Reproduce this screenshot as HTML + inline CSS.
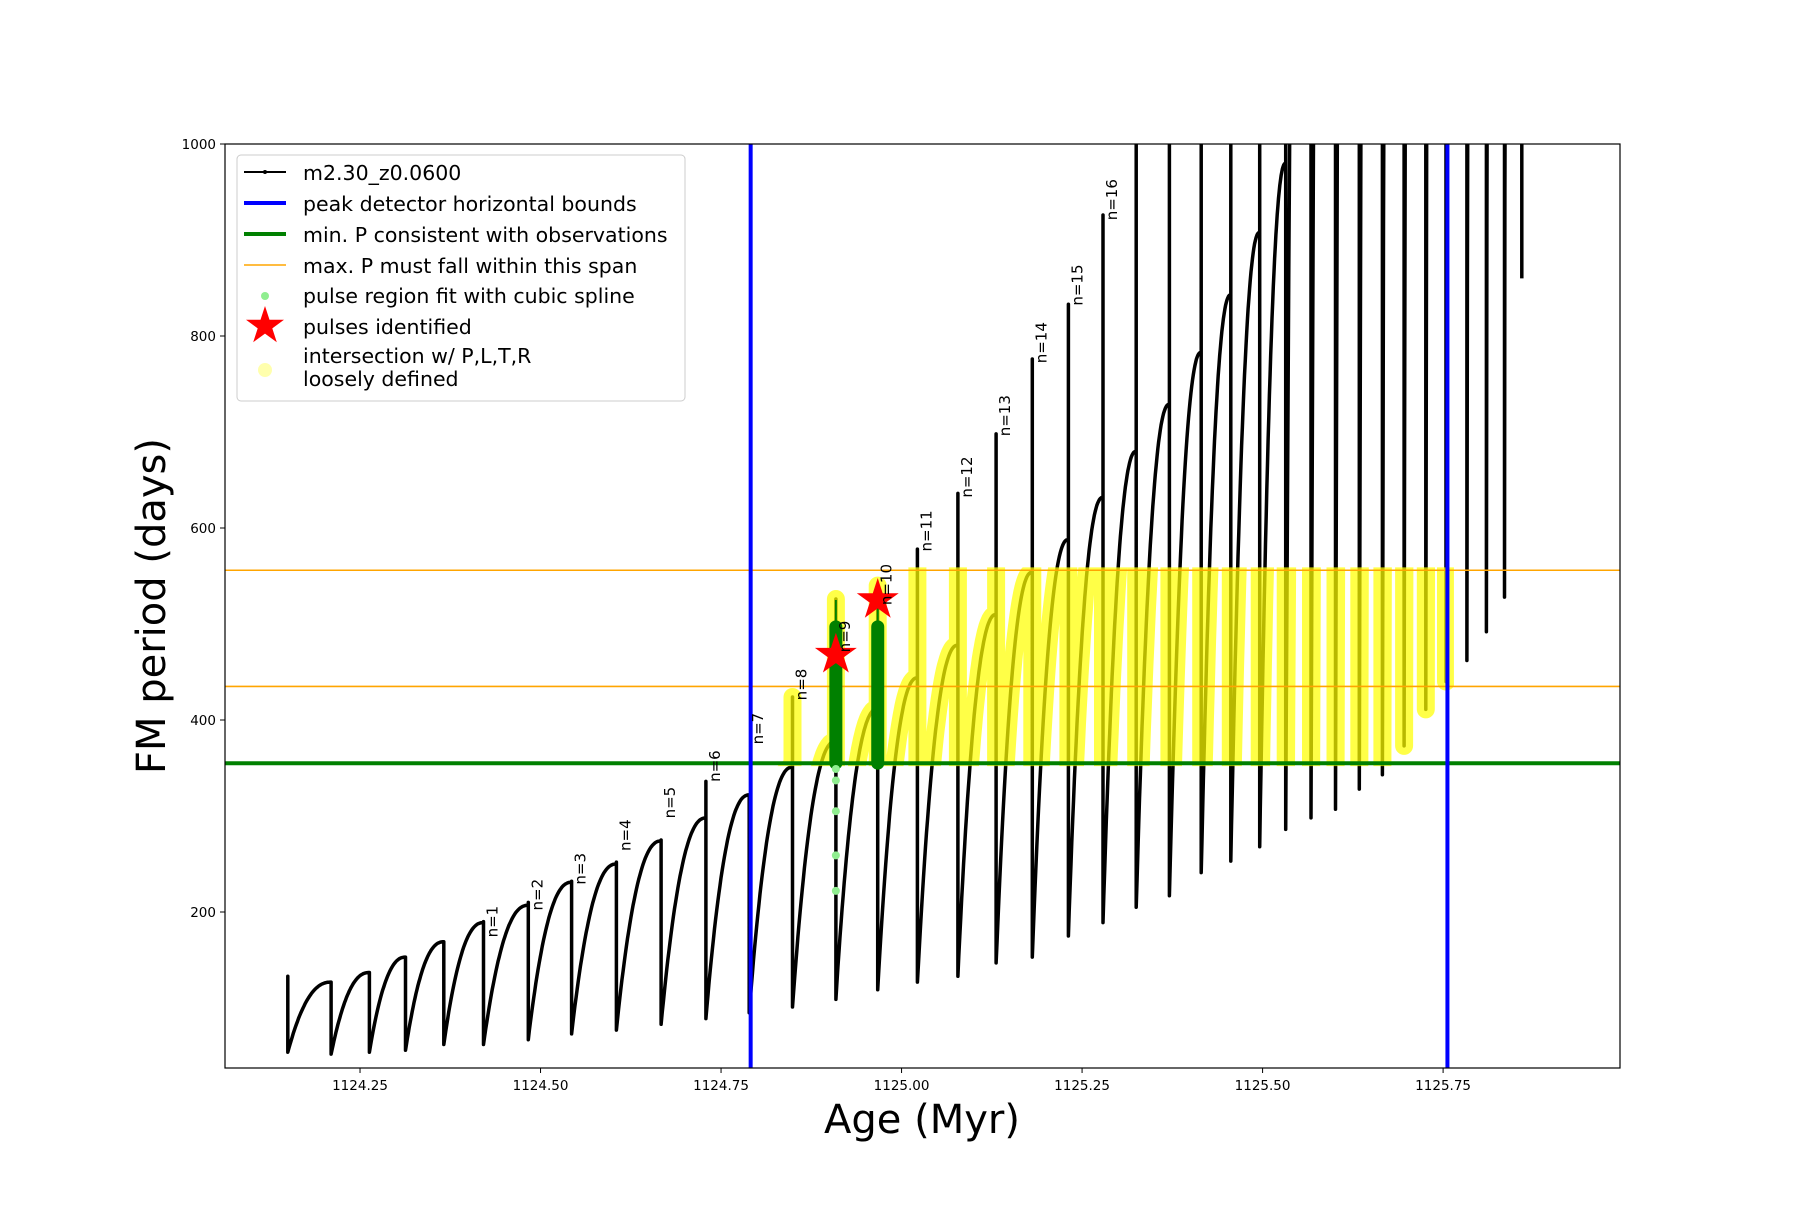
<!DOCTYPE html>
<html><head><meta charset="utf-8"><style>
html,body{margin:0;padding:0;background:#fff;}
svg text{font-family:"DejaVu Sans","Liberation Sans",sans-serif;}
</style></head><body>
<svg id="chart" width="1800" height="1200" viewBox="0 0 1800 1200" xmlns="http://www.w3.org/2000/svg">
<defs>
<clipPath id="plotClip"><rect x="225" y="144" width="1395" height="924"/></clipPath>
<clipPath id="bandClip"><rect id="bandRect" x="0" y="0" width="0" height="0"/></clipPath>
</defs>
<rect x="0" y="0" width="1800" height="1200" fill="#fff"/>
<g id="plot" clip-path="url(#plotClip)"></g>
<rect x="225" y="144" width="1395" height="924" fill="none" stroke="#000" stroke-width="1.2"/>
<g id="xticks"></g>
<g id="yticks"></g>
<text x="922" y="1133" font-size="40" text-anchor="middle">Age (Myr)</text>
<text transform="translate(165,606) rotate(-90)" font-size="40" text-anchor="middle">FM period (days)</text>
<g>
<rect x="237" y="155" width="448" height="246" rx="4" fill="#fff" fill-opacity="0.85" stroke="#ccc" stroke-width="1"/>
<g><line x1="244" y1="172" x2="286" y2="172" stroke="#000" stroke-width="2"/><circle cx="265" cy="172" r="2" fill="#000"/><text x="303" y="180" font-size="20.5">m2.30_z0.0600</text></g>
<g><line x1="244" y1="203" x2="286" y2="203" stroke="#0000ff" stroke-width="4"/><text x="303" y="211" font-size="20.5">peak detector horizontal bounds</text></g>
<g><line x1="244" y1="234" x2="286" y2="234" stroke="#008000" stroke-width="4"/><text x="303" y="242" font-size="20.5">min. P consistent with observations</text></g>
<g><line x1="244" y1="265" x2="286" y2="265" stroke="#ffa500" stroke-width="1.5"/><text x="303" y="273" font-size="20.5">max. P must fall within this span</text></g>
<g><circle cx="265" cy="296" r="4" fill="#90ee90"/><text x="303" y="303" font-size="20.5">pulse region fit with cubic spline</text></g>
<g><polygon id="legStar" fill="#ff0000"/><text x="303" y="334" font-size="20.5">pulses identified</text></g>
<g><circle cx="265" cy="370" r="7" fill="#ffff99" opacity="0.8"/><text x="303" y="363" font-size="20.5">intersection w/ P,L,T,R</text><text x="303" y="386" font-size="20.5">loosely defined</text></g>
</g>
</svg>
<script>
// ---- data ----
const dropAge = [1124.150,1124.210,1124.263,1124.313,1124.366,1124.421,1124.483,1124.543,1124.605,1124.667,1124.729,1124.789,1124.849,1124.909,1124.967,1125.022,1125.078,1125.131,1125.181,1125.231,1125.279,1125.325,1125.371,1125.415,1125.456,1125.496,1125.532,1125.567,1125.601,1125.634,1125.666,1125.696,1125.726,1125.754,1125.783,1125.810,1125.835];
const minP = [54,52,54,56,62,62,67,73,77,83,89,95,101,109,119,127,133,147,153,175,189,205,217,241,253,268,286,298,307,328,343,373,411,440,462,492,528];
const peakP = [133,127,137,153,169,189,207,231,250,274,298,322,351,378,412,444,478,510,554,588,632,680,729,783,843,908,980,2500,3500,4500,5000,5500,6000,6500,7000,7500,8000];
const spikeP = [133,127,137,153,169,190,210,232,252,275,336,322,424,526,540,578,636,698,776,833,926,1100,1100,1100,1100,1100,1100,1100,1100,1100,1100,1100,1100,1100,1100,1100,1100];
const endAge = 1125.859;
const endPeak = 8000;
const endVal = 860;
const labelIdx = [5,6,7,8,9,10,11,12,13,14,15,16,17,18,19,20];
const labelText = ["n=1","n=2","n=3","n=4","n=5","n=6","n=7","n=8","n=9","n=10","n=11","n=12","n=13","n=14","n=15","n=16"];
const labelP = [190,218,245,280,314,352,391,437,487,541,597,653,717,793,853,942];
const boundAges = [1124.791,1125.756];
const minObsP = [355];
const maxSpanP = [435,556];
const splineAge = [1124.909,1124.909,1124.909,1124.909,1124.909];
const splineP = [349,337,305,259,222];
const pulseAge = [1124.909,1124.967];
const pulseP = [468,525];
const greenAge = [1124.909,1124.967];
const greenLo = [355,355];
const greenHi = [497,497];
const greenThin = [525,520];
const yellowRange = [1124.78,1125.765];
const xTicks = [1124.25,1124.50,1124.75,1125.00,1125.25,1125.50,1125.75];
const xTickLabels = ["1124.25","1124.50","1124.75","1125.00","1125.25","1125.50","1125.75"];
const yTicks = [200,400,600,800,1000];
const yTickLabels = ["200","400","600","800","1000"];

// ---- scales ----
const X0=225,X1=1620,Y0=1068,Y1=144;
const xMin=1124.063,xMax=1125.995,yMin=37.5,yMax=1000;
function xs(v){return X0+(v-xMin)/(xMax-xMin)*(X1-X0);}
function ys(v){return Y0-(v-yMin)/(yMax-yMin)*(Y0-Y1);}
const NS="http://www.w3.org/2000/svg";
function mk(tag,attrs,parent){const e=document.createElementNS(NS,tag);for(const k in attrs)e.setAttribute(k,attrs[k]);parent.appendChild(e);return e;}
const plot=document.getElementById('plot');

function shape(u){return 1-Math.pow(1-u,2.3);}
let pts=[];
pts.push([xs(dropAge[0]),ys(minP[0]+20)]);
pts.push([xs(dropAge[0]),ys(spikeP[0])]);
pts.push([xs(dropAge[0]),ys(minP[0])]);
for(let i=0;i<dropAge.length;i++){
  const a0=dropAge[i], a1=(i+1<dropAge.length)?dropAge[i+1]:endAge;
  const p0=minP[i], p1=(i+1<dropAge.length)?peakP[i+1]:endPeak;
  const N=40;
  for(let k=1;k<=N;k++){const u=k/N;let p=p0+(p1-p0)*shape(u);pts.push([xs(a0+(a1-a0)*u),ys(Math.min(p,1100))]);}
  if(i+1<dropAge.length){
    pts.push([xs(a1),ys(Math.min(spikeP[i+1],1100))]);
    pts.push([xs(a1),ys(minP[i+1])]);
  } else {
    pts.push([xs(a1),ys(endVal)]);
  }
}
const d="M"+pts.map(p=>p[0].toFixed(1)+","+p[1].toFixed(1)).join("L");
const series=mk('path',{d:d,fill:'none',stroke:'#000','stroke-width':3.5,'stroke-linejoin':'round'},plot);



const br=document.getElementById('bandRect');
br.setAttribute('x',xs(yellowRange[0]));br.setAttribute('width',xs(yellowRange[1])-xs(yellowRange[0]));
br.setAttribute('y',ys(maxSpanP[1]+3));br.setAttribute('height',ys(minObsP[0]-3)-ys(maxSpanP[1]+3));
const yel=mk('path',{d:d,fill:'none',stroke:'#ffff00','stroke-width':18,'stroke-linecap':'round','stroke-linejoin':'round',opacity:0.72,'clip-path':'url(#bandClip)'},plot);



maxSpanP.forEach(v=>{const l=mk('line',{x1:X0,x2:X1,y1:ys(v),y2:ys(v),stroke:'#ffa500','stroke-width':1.6},plot);

});
minObsP.forEach(v=>{const l=mk('line',{x1:X0,x2:X1,y1:ys(v),y2:ys(v),stroke:'#008000','stroke-width':4},plot);

});
boundAges.forEach(a=>{const l=mk('line',{x1:xs(a),x2:xs(a),y1:Y1,y2:Y0,stroke:'#0000ff','stroke-width':4},plot);

});

greenAge.forEach((a,i)=>{
  const t=mk('line',{x1:xs(a),x2:xs(a),y1:ys(greenLo[i]),y2:ys(greenThin[i]),stroke:'#008000','stroke-width':2},plot);
  
  
  const g=mk('line',{x1:xs(a),x2:xs(a),y1:ys(greenLo[i]),y2:ys(greenHi[i]),stroke:'#008000','stroke-width':13,'stroke-linecap':'round'},plot);
  
  
});
splineAge.forEach((a,i)=>{const c=mk('circle',{cx:xs(a),cy:ys(splineP[i]),r:4,fill:'#90ee90'},plot);

});

function starPts(cx,cy,R){const r=R*0.382;let s=[];for(let k=0;k<10;k++){const ang=-Math.PI/2+k*Math.PI/5;const rr=k%2?r:R;s.push((cx+rr*Math.cos(ang)).toFixed(1)+","+(cy+rr*Math.sin(ang)).toFixed(1));}return s.join(" ");}
pulseAge.forEach((a,i)=>{const s=mk('polygon',{points:starPts(xs(a),ys(pulseP[i]),22),fill:'#ff0000'},plot);

});
document.getElementById('legStar').setAttribute('points',starPts(265,326,20));

labelIdx.forEach((idx,i)=>{
  const x=xs(dropAge[idx])+14, y=ys(labelP[i]);
  const t=mk('text',{transform:`translate(${x.toFixed(1)},${y.toFixed(1)}) rotate(-90)`,'font-size':15,'text-anchor':'middle'},plot);
  t.textContent=labelText[i];
  
  
});

const xg=document.getElementById('xticks');
xTicks.forEach((v,i)=>{const x=xs(v);
  const l=mk('line',{x1:x,x2:x,y1:Y0,y2:Y0+5,stroke:'#000','stroke-width':1},xg);
  
  
  const t=mk('text',{x:x,y:Y0+22,'font-size':13.5,'text-anchor':'middle'},xg);t.textContent=xTickLabels[i];
  
  });
const yg=document.getElementById('yticks');
yTicks.forEach((v,i)=>{const y=ys(v);
  const l=mk('line',{x1:X0-5,x2:X0,y1:y,y2:y,stroke:'#000','stroke-width':1},yg);
  
  
  const t=mk('text',{x:X0-9,y:y+5,'font-size':13.5,'text-anchor':'end'},yg);t.textContent=yTickLabels[i];
  
  });
</script>
</body></html>
